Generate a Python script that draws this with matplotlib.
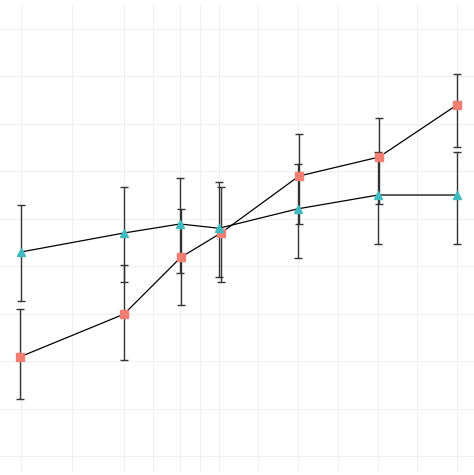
import matplotlib

matplotlib.use("Agg")
import matplotlib.pyplot as plt

# x positions (chart units), dodged slightly between the two groups
red_x = [20, 124, 181, 221, 299, 379, 457]
red_y = [2.09, 2.99, 4.19, 4.70, 5.90, 6.30, 7.40]
red_lo = [1.20, 2.02, 3.18, 3.67, 4.89, 5.31, 6.52]
red_hi = [3.09, 4.03, 5.21, 5.67, 6.79, 7.12, 8.05]

blue_x = [21, 124, 180, 219, 298, 378, 457]
blue_y = [4.30, 4.70, 4.89, 4.80, 5.21, 5.50, 5.50]
blue_lo = [3.27, 3.67, 3.86, 3.78, 4.17, 4.47, 4.47]
blue_hi = [5.30, 5.67, 5.86, 5.78, 6.16, 6.41, 6.41]

grid_x = [21, 72, 124, 153, 180, 200, 219, 258, 298, 338, 378, 417, 457]
grid_y = list(range(10))

fig = plt.figure(figsize=(4.74, 4.75), dpi=100)
ax = fig.add_axes([0, 0, 1, 1])
for gx in grid_x:
    ax.axvline(gx, ymin=0.01, ymax=0.99, color="#F0F0F0", lw=0.8, zorder=0)
for gy in grid_y:
    ax.axhline(gy, color="#F0F0F0", lw=0.8, zorder=0)

for xs, ys, lo, hi, color, marker in [
    (red_x, red_y, red_lo, red_hi, "#F07E72", "s"),
    (blue_x, blue_y, blue_lo, blue_hi, "#3FBCC2", "^"),
]:
    err = [[y - l for y, l in zip(ys, lo)], [h - y for y, h in zip(ys, hi)]]
    ax.errorbar(xs, ys, yerr=err, fmt="none", ecolor="#333333", elinewidth=1.0,
                capsize=3, capthick=1.0, zorder=2)
    ax.plot(xs, ys, color="black", lw=0.9, zorder=3)
    ax.plot(xs, ys, ls="none", marker=marker, color=color, markersize=6, zorder=4)

ax.set_xlim(0, 474)
ax.set_ylim(-0.40, 9.61)
for s in ax.spines.values():
    s.set_visible(False)
ax.set_xticks([])
ax.set_yticks([])
fig.savefig("out.png", dpi=100)
